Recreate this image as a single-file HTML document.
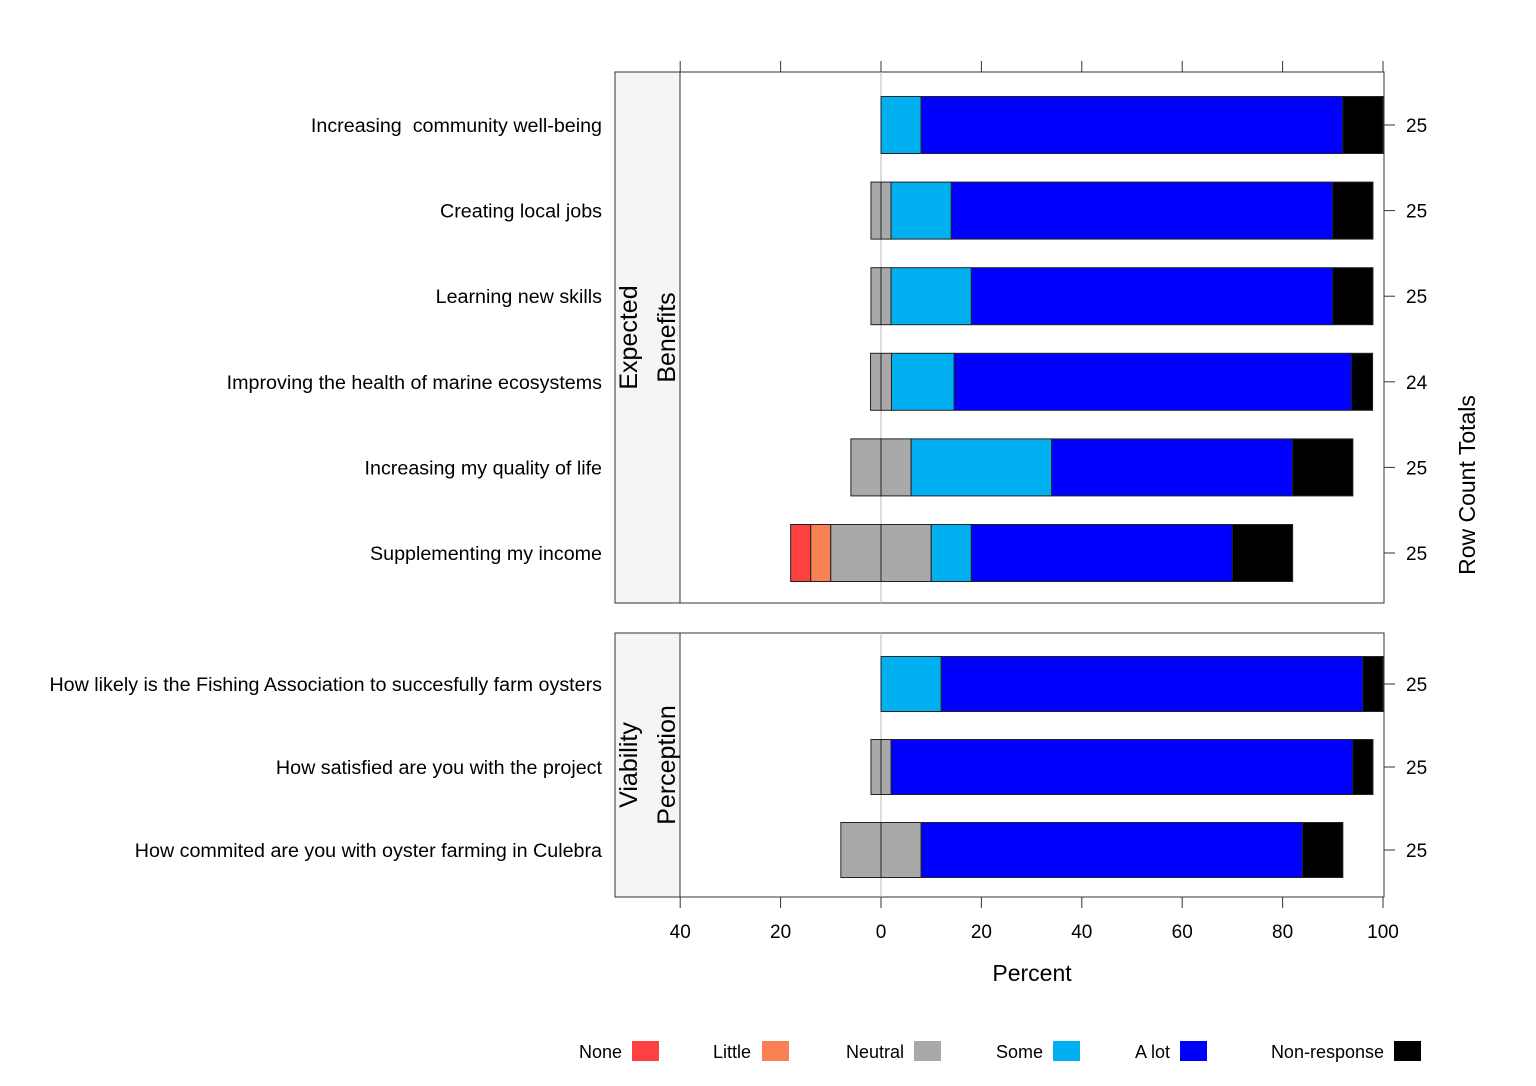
<!DOCTYPE html>
<html><head><meta charset="utf-8">
<style>
html,body{margin:0;padding:0;background:#fff;}
svg{display:block;font-family:"Liberation Sans",Arial,sans-serif;}
.q{white-space:pre;}
</style></head>
<body>
<svg id="chart" width="1536" height="1086" viewBox="0 0 1536 1086"></svg>
<script>
const topQuestions = ["Increasing  community well-being","Creating local jobs","Learning new skills","Improving the health of marine ecosystems","Increasing my quality of life","Supplementing my income"];
const topNone = [0,0,0,0,0,4];
const topLittle = [0,0,0,0,0,4];
const topNeutral = [0,4,4,4.17,12,20];
const topSome = [8,12,16,12.5,28,8];
const topAlot = [84,76,72,79.17,48,52];
const topNR = [8,8,8,4.17,12,12];
const topCounts = [25,25,25,24,25,25];

const botQuestions = ["How likely is the Fishing Association to succesfully farm oysters","How satisfied are you with the project","How commited are you with oyster farming in Culebra"];
const botNone = [0,0,0];
const botLittle = [0,0,0];
const botNeutral = [0,4,16];
const botSome = [12,0,0];
const botAlot = [84,92,76];
const botNR = [4,4,8];
const botCounts = [25,25,25];

const xTicks = [-40,-20,0,20,40,60,80,100];
const xTickLabels = ["40","20","0","20","40","60","80","100"];
const legendLabels = ["None","Little","Neutral","Some","A lot","Non-response"];

const colors = ["#FF4040","#F97F55","#A9A9A9","#00B0F0","#0000FF","#000000"];
const svg = document.getElementById('chart');
const NS = "http://www.w3.org/2000/svg";
function mk(tag, attrs, parent){const e=document.createElementNS(NS,tag);for(const k in attrs)e.setAttribute(k,attrs[k]);(parent||svg).appendChild(e);return e;}
function xs(v){return 881 + v*5.02;}

const panels = [
  {q:topQuestions,d:[topNone,topLittle,topNeutral,topSome,topAlot,topNR],c:topCounts,y0:72,y1:603,centers0:125,step:85.6,bh:57,strip:["Expected","Benefits"],name:"expected-benefits"},
  {q:botQuestions,d:[botNone,botLittle,botNeutral,botSome,botAlot,botNR],c:botCounts,y0:633,y1:897,centers0:684,step:83,bh:55,strip:["Viability","Perception"],name:"viability-perception"}
];

panels.forEach((p,pi)=>{
  const g = mk('g',{});
  
  
  const strip = mk('rect',{x:615,y:p.y0,width:65,height:p.y1-p.y0,fill:'#f5f5f5',stroke:'#333','stroke-width':1},g);
  
  
  const frame = mk('rect',{x:680,y:p.y0,width:1384-680,height:p.y1-p.y0,fill:'#fff',stroke:'#333','stroke-width':1},g);
  
  
  mk('line',{x1:xs(0),x2:xs(0),y1:p.y0,y2:p.y1,stroke:'#bbb','stroke-width':1},g);
  const midY=(p.y0+p.y1)/2;
  const st = mk('text',{transform:`translate(645,${midY}) rotate(-90)`,'text-anchor':'middle','font-size':25,fill:'#000'},g);
  
  
  p.strip.forEach((s,i)=>{const t=mk('tspan',{x:0,dy:i===0?-8:38},st);t.textContent=s;});
  p.q.forEach((q,i)=>{
    const cy = p.centers0 + i*p.step;
    const neg = p.d[0][i]+p.d[1][i]+p.d[2][i]/2;
    let start = -neg;
    const segs=[p.d[0][i],p.d[1][i],p.d[2][i]/2,p.d[2][i]/2,p.d[3][i],p.d[4][i],p.d[5][i]];
    const cidx=[0,1,2,2,3,4,5];
    segs.forEach((v,k)=>{
      if(v>0){
        const r = mk('rect',{x:xs(start),y:cy-p.bh/2,width:xs(start+v)-xs(start),height:p.bh,fill:colors[cidx[k]],stroke:'#222','stroke-width':1},g);
        
        
      }
      start+=v;
    });
    const lt = mk('text',{x:602,y:cy+7,'text-anchor':'end','font-size':19.7,fill:'#000','class':'q'},g);
    
    
    lt.textContent=q;
    mk('line',{x1:1384,x2:1395,y1:cy,y2:cy,stroke:'#333'},g);
    const ct = mk('text',{x:1406,y:cy+7,'font-size':19,fill:'#000'},g);
    
    
    ct.textContent=p.c[i];
  });
});

xTicks.forEach((v,i)=>{
  mk('line',{x1:xs(v),x2:xs(v),y1:61,y2:72,stroke:'#333'});
  mk('line',{x1:xs(v),x2:xs(v),y1:897,y2:908,stroke:'#333'});
  const t = mk('text',{x:xs(v),y:938,'text-anchor':'middle','font-size':19,fill:'#000'});
  
  
  t.textContent=xTickLabels[i];
});
const xt = mk('text',{x:1032,y:981,'text-anchor':'middle','font-size':23,fill:'#000'});


xt.textContent='Percent';
const rt = mk('text',{transform:'translate(1475,485) rotate(-90)','text-anchor':'middle','font-size':23,fill:'#000'});


rt.textContent='Row Count Totals';

const lx=[[622,632],[751,762],[904,914],[1043,1053],[1170,1180],[1384,1394]];
legendLabels.forEach((l,i)=>{
  const g = mk('g',{});
  
  
  const t = mk('text',{x:lx[i][0],y:1058,'text-anchor':'end','font-size':18,fill:'#000'},g);
  t.textContent=l;
  mk('rect',{x:lx[i][1],y:1041,width:27,height:20,fill:colors[i]},g);
});
</script>
</body></html>
